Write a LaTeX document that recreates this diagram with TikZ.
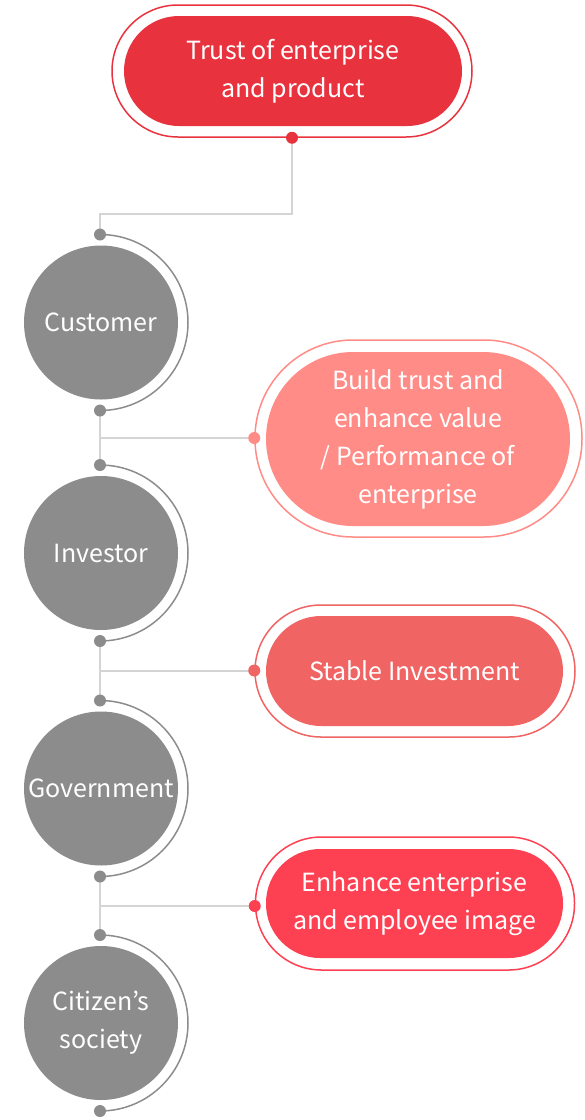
\documentclass[tikz,border=0pt]{standalone}
\usepackage{fontspec}
\newfontfamily\dfont{Noto Sans CJK KR}
\definecolor{topred}{HTML}{E8333F}
\definecolor{salmon}{HTML}{FF8C87}
\definecolor{midred}{HTML}{F06464}
\definecolor{brightred}{HTML}{FE4152}
\definecolor{circgray}{HTML}{8C8C8C}
\definecolor{linegray}{HTML}{D4D4D4}
\begin{document}
\begin{tikzpicture}[x=1pt,y=-1pt,
  txt/.style={text=white,font=\dfont\fontsize{25}{38}\selectfont,align=center},
  pillbox/.style={rectangle,inner sep=0pt,txt},
  ring/.style={rectangle,inner sep=0pt,draw,line width=1.5pt,fill=white},
  person/.style={circle,fill=circgray,minimum size=154pt,inner sep=0pt,txt},
  gdot/.style={circle,fill=circgray,minimum size=12pt,inner sep=0pt},
  rdot/.style={circle,minimum size=12pt,inner sep=0pt},
  halfarc/.style={draw=circgray,line width=1.5pt},
  conn/.style={draw=linegray,line width=2pt}]
\useasboundingbox (0,0) rectangle (585,1120);

% top pill
\node[ring,draw=topred,minimum width=360pt,minimum height=132pt,rounded corners=66pt] (topo) at (292,71) {};
\node[pillbox,fill=topred,minimum width=338pt,minimum height=110pt,rounded corners=55pt] (top) at (293,71) {Trust of enterprise\\and product};

% right pills
\node[ring,draw=salmon,minimum width=327pt,minimum height=197pt,rounded corners=98pt] (p1o) at (418.5,438.5) {};
\node[pillbox,fill=salmon,minimum width=304pt,minimum height=174pt,rounded corners=87pt] (p1) at (418,439) {Build trust and\\enhance value\\/ Performance of\\enterprise};

\node[ring,draw=midred,minimum width=320pt,minimum height=132pt,rounded corners=66pt] (p2o) at (415,671) {};
\node[pillbox,fill=midred,minimum width=297pt,minimum height=110pt,rounded corners=55pt] (p2) at (414.5,671) {Stable Investment};

\node[ring,draw=brightred,minimum width=319pt,minimum height=133pt,rounded corners=66pt] (p3o) at (415,903.5) {};
\node[pillbox,fill=brightred,minimum width=297pt,minimum height=109pt,rounded corners=54pt] (p3) at (414.5,903.5) {Enhance enterprise\\and employee image};

% circles
\node[person] (c1) at (101,322.5) {Customer};
\node[person] (c2) at (101,553) {Investor};
\node[person] (c3) at (101,788.5) {Government};
\node[person,align=center] (c4) at (101,1023) {Citizen’s\\society};

% half arcs
\foreach \n/\y in {1/322.5,2/553,3/788.5,4/1023}{
  \coordinate (t\n) at (100,\y-88);
  \coordinate (b\n) at (100,\y+88);
  \draw[halfarc] (t\n) arc[start angle=-90,end angle=90,radius=88];
}

% connectors
\coordinate (topbend1) at (292,214);
\coordinate (topbend2) at (100,214);
\draw[conn] (topo.south) -- (topbend1) -- (topbend2) -- (t1);
\draw[conn] (b1) -- (t2);
\draw[conn] (b2) -- (t3);
\draw[conn] (b3) -- (t4);
\coordinate (j1) at (100,438);
\coordinate (j2) at (100,670.5);
\coordinate (j3) at (100,906);
\draw[conn] (j1) -- (p1o.west |- j1);
\draw[conn] (j2) -- (p2o.west |- j2);
\draw[conn] (j3) -- (p3o.west |- j3);

% dots
\node[rdot,fill=topred] (dtop) at (topo.south) {};
\node[rdot,fill=salmon] (dp1) at (p1o.west |- j1) {};
\node[rdot,fill=midred] (dp2) at (p2o.west |- j2) {};
\node[rdot,fill=brightred] (dp3) at (p3o.west |- j3) {};
\foreach \n in {1,2,3,4}{
  \node[gdot] (dt\n) at (t\n) {};
  \node[gdot] (db\n) at (b\n) {};
}
\end{tikzpicture}
\end{document}
